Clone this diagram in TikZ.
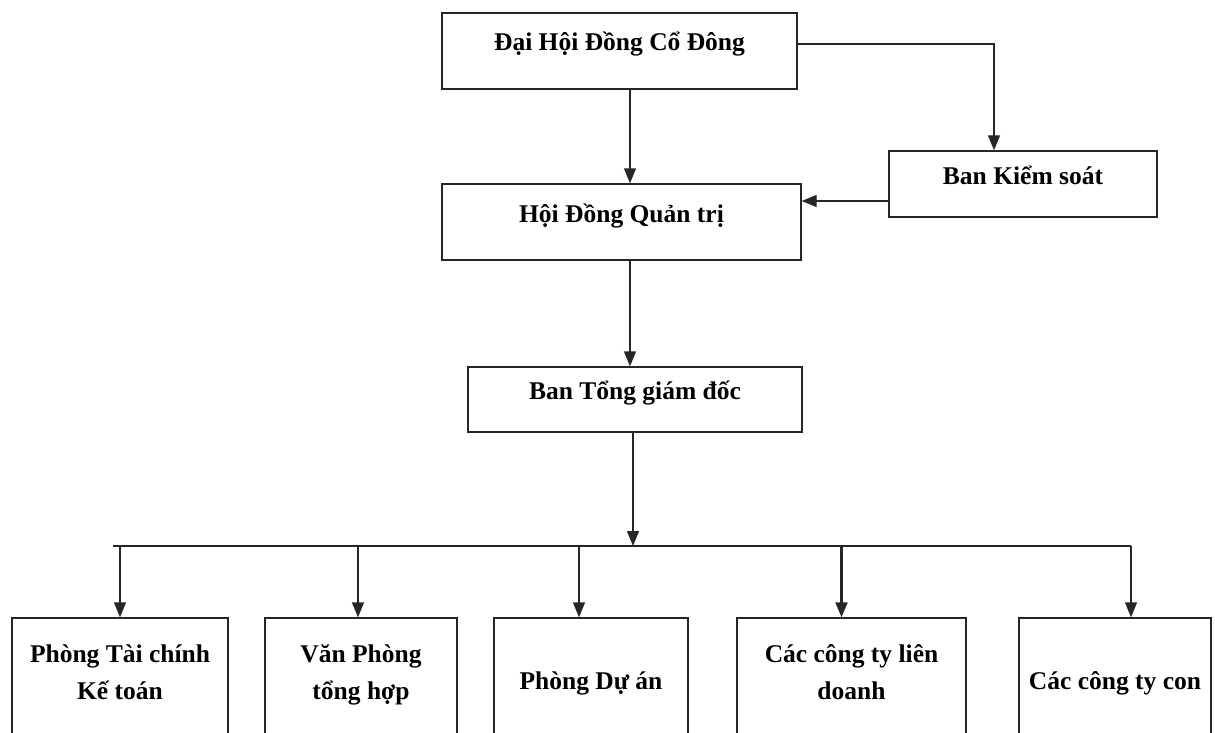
\documentclass[tikz,border=0pt]{standalone}
\usepackage{fontspec}
\setmainfont{Liberation Serif}
\usetikzlibrary{arrows.meta}

\begin{document}
\begin{tikzpicture}[x=1pt, y=-1pt, % <- pixel units, y downwards
   box/.style={draw=black!85, line width=1.4pt, inner sep=0pt, align=center,
      text height=12pt, text depth=12pt,
      font=\bfseries\fontsize{25.5}{37}\selectfont},
   twoline/.style={text height=32pt, text depth=12pt},
   arr/.style={draw=black!85, line width=1.4pt, -{Triangle[width=12pt,length=15pt]}}]
   % Page frame
   \useasboundingbox (0,0) rectangle (1215,733);
   % Upper boxes
   \node[box, minimum width=355pt, minimum height=76pt] (dhcd) at (619.5,51) {Đại Hội Đồng Cổ Đông};
   \node[box, minimum width=359pt, minimum height=76pt] (hdqt) at (621.5,222) {Hội Đồng Quản trị};
   \node[box, minimum width=268pt, minimum height=66pt] (bks) at (1023,184) {Ban Kiểm soát};
   \node[box, minimum width=334pt, minimum height=65pt] (btgd) at (635,399.5) {Ban Tổng giám đốc};
   % Lower boxes (cut by the page edge)
   \node[box, twoline, minimum width=216pt, minimum height=142pt] (ptc) at (120,689) {Phòng Tài chính\\Kế toán};
   \node[box, twoline, minimum width=192pt, minimum height=142pt] (vp) at (361,689) {Văn Phòng\\tổng hợp};
   \node[box, minimum width=194pt, minimum height=142pt] (pda) at (591,689) {Phòng Dự án};
   \node[box, twoline, minimum width=229pt, minimum height=142pt] (ctld) at (851.5,689) {Các công ty liên\\doanh};
   \node[box, minimum width=192pt, minimum height=142pt] (ctc) at (1115,689) {Các công ty con};
   % Bus line
   \coordinate (busL) at (113,546);
   \coordinate (busR) at (1131,546);
   \draw[draw=black!85, line width=1.4pt] (busL) -- (busR);
   % Connectors
   \draw[arr] ([xshift=10.5pt]dhcd.south) -- ([xshift=10.5pt]dhcd.south |- hdqt.north);
   \draw[arr] ([yshift=7pt]dhcd.east) -| ([xshift=-29pt]bks.north);
   \draw[arr] ([yshift=-17pt]bks.west) -- ([yshift=-17pt]bks.west -| hdqt.east);
   \draw[arr] ([xshift=8.5pt]hdqt.south) -- ([xshift=8.5pt]hdqt.south |- btgd.north);
   \draw[arr] ([xshift=-2pt]btgd.south) -- ([xshift=-2pt]btgd.south |- busL);
   \foreach \n/\dx in {ptc/0, vp/-3, pda/-12, ctc/16}
      \draw[arr] ([xshift=\dx pt]\n.north |- busL) -- ([xshift=\dx pt]\n.north);
   \draw[arr, line width=2.2pt] ([xshift=-10pt]ctld.north |- busL) -- ([xshift=-10pt]ctld.north);
\end{tikzpicture}
\end{document}
